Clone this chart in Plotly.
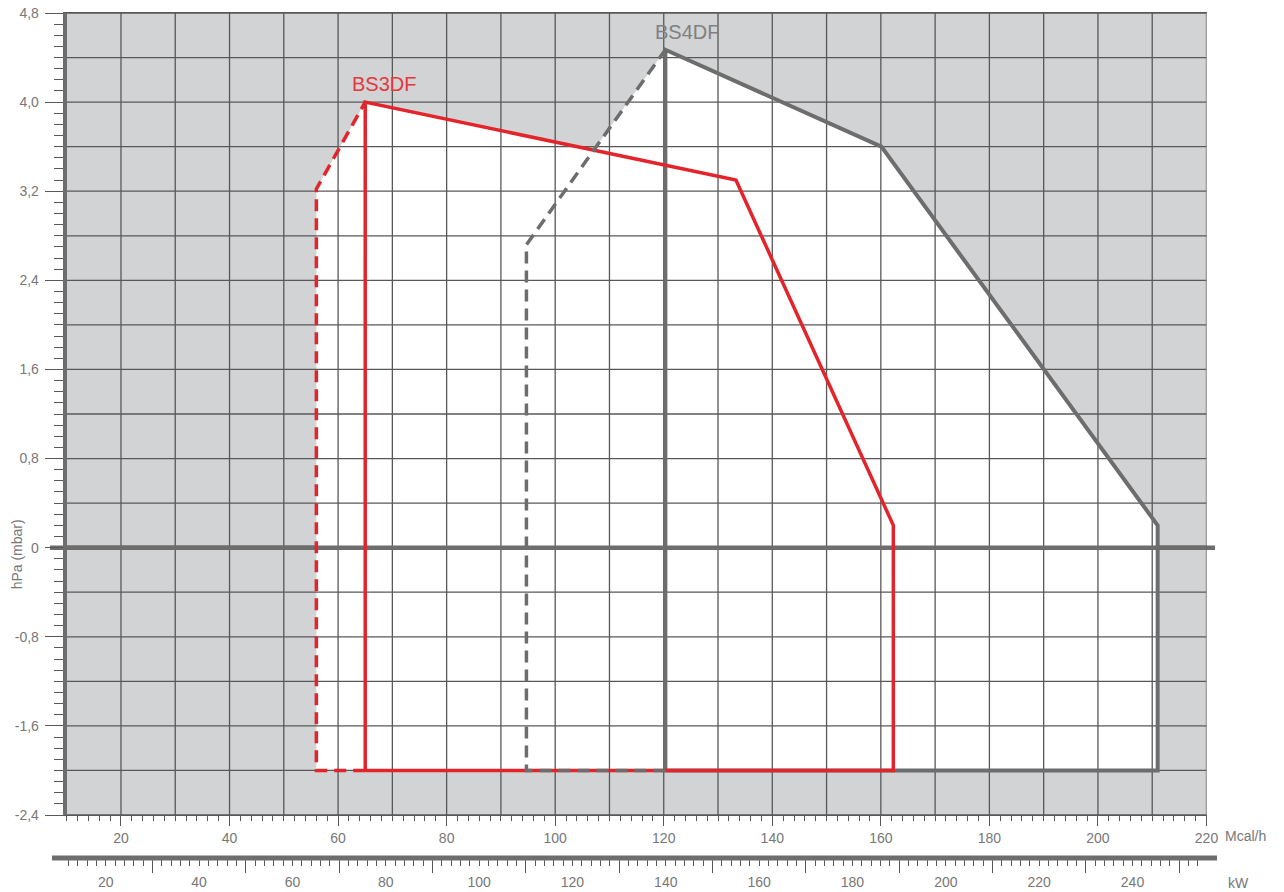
import numpy as np
import plotly.graph_objects as go

# ---------------- data ----------------
# BS3DF working field (Mcal/h, hPa)
bs3df_solid_x = [65.0, 65.0, 133.3, 162.3, 162.3, 65.0]
bs3df_solid_y = [-2.0, 4.0, 3.30, 0.20, -2.0, -2.0]
bs3df_dash_x = [65.0, 56.0, 56.0, 65.0]
bs3df_dash_y = [-2.0, -2.0, 3.22, 4.0]

# BS4DF working field
bs4df_solid_x = [120.3, 120.3, 160.1, 211.0, 211.0, 120.3]
bs4df_solid_y = [-2.0, 4.47, 3.60, 0.20, -2.0, -2.0]
bs4df_dash_x = [120.3, 94.7, 94.7, 120.3]
bs4df_dash_y = [-2.0, -2.0, 2.72, 4.47]

# axes
x_range = [10, 220]
y_range = [-2.4, 4.8]
x_major = list(range(10, 230, 10))
x_labels = ["" if v % 20 else str(v) for v in x_major]
x_minor = list(range(10, 222, 2))
y_major = [round(-2.4 + 0.4 * i, 1) for i in range(19)]
y_labels = [("0" if abs(v) < 1e-9 else f"{v:.1f}".replace(".", ","))
            if abs(round(v / 0.8) * 0.8 - v) < 1e-6 else "" for v in y_major]
y_minor = [round(-2.4 + 0.1 * i, 1) for i in range(73)]
kw_per_mcal = 1.163
kw_major = list(range(20, 260, 20))
kw_labels = [str(v) for v in kw_major]
kw_long = list(range(10, 260, 20))
kw_minor = list(range(12, 258, 2))

RED = "#e3242b"
GRAY = "#6d6d6d"
GRID = "#585858"
BG = "#d1d3d4"
TXT = "#777777"

fig = go.Figure()

# white working fields (union of both envelopes)
fx3 = bs3df_dash_x + bs3df_solid_x[2:]
fy3 = bs3df_dash_y + bs3df_solid_y[2:]
fx4 = bs4df_dash_x + bs4df_solid_x[2:]
fy4 = bs4df_dash_y + bs4df_solid_y[2:]
for fx, fy in [(fx3, fy3), (fx4, fy4)]:
    fig.add_trace(go.Scatter(x=fx, y=fy, fill="toself", fillcolor="white",
                             mode="none", hoverinfo="skip", showlegend=False))

# grid drawn above the white fields
gx, gy = [], []
for v in x_major[1:]:
    gx += [v, v, None]
    gy += [y_range[0], y_range[1], None]
for v in y_major:
    gx += [x_range[0], x_range[1], None]
    gy += [v, v, None]
fig.add_trace(go.Scatter(x=gx, y=gy, mode="lines",
                         line=dict(color=GRID, width=1.3),
                         hoverinfo="skip", showlegend=False))
# zero line
fig.add_trace(go.Scatter(x=x_range, y=[0, 0], mode="lines",
                         line=dict(color=GRAY, width=4.5),
                         hoverinfo="skip", showlegend=False))

# outlines
fig.add_trace(go.Scatter(x=bs4df_solid_x, y=bs4df_solid_y, mode="lines",
                         line=dict(color=GRAY, width=4), name="BS4DF",
                         showlegend=False))
fig.add_trace(go.Scatter(x=bs3df_solid_x, y=bs3df_solid_y, mode="lines",
                         line=dict(color=RED, width=3.5), name="BS3DF",
                         showlegend=False))
fig.add_trace(go.Scatter(x=bs3df_dash_x, y=bs3df_dash_y, mode="lines",
                         line=dict(color=RED, width=3.5, dash="12px,7px"),
                         showlegend=False, hoverinfo="skip"))
fig.add_trace(go.Scatter(x=bs4df_dash_x, y=bs4df_dash_y, mode="lines",
                         line=dict(color=GRAY, width=3.5, dash="12px,7px"),
                         showlegend=False, hoverinfo="skip"))

# dummy traces to register the kW axes
kw_range = [x_range[0] * kw_per_mcal, x_range[1] * kw_per_mcal]
fig.add_trace(go.Scatter(x=kw_range, y=[None, None], xaxis="x2", mode="lines",
                         showlegend=False, hoverinfo="skip"))
fig.add_trace(go.Scatter(x=kw_range, y=[None, None], xaxis="x3", mode="lines",
                         showlegend=False, hoverinfo="skip"))

L, R, T, B = 50, 60, 13, 20
W, H = 1284, 892
pw, ph = W - L - R, H - T - B
def px_x(p):
    return (p - L) / pw
def px_y(p):
    return (H - B - p) / ph

xdom = [px_x(66.7), px_x(1206.5)]
tickfont = dict(family="Liberation Sans, Arial, sans-serif", size=14, color=TXT)

fig.update_layout(
    width=W, height=H,
    margin=dict(l=L, r=R, t=T, b=B, autoexpand=False),
    paper_bgcolor="white", plot_bgcolor=BG,
    font=dict(family="Liberation Sans, Arial, sans-serif", color=TXT),
    xaxis=dict(domain=xdom, range=x_range, showgrid=False, zeroline=False,
               automargin=False,
               tickmode="array", tickvals=x_major, ticktext=x_labels,
               ticks="outside", ticklen=10, tickwidth=1.3, tickcolor=GRID,
               minor=dict(tickmode="array", tickvals=x_minor, ticks="outside",
                          ticklen=5, tickwidth=1.3, tickcolor=GRID),
               showline=True, linecolor=GRID, linewidth=1.3, mirror=True,
               tickfont=tickfont, ticklabelstandoff=0),
    yaxis=dict(domain=[px_y(815), 1], range=y_range, showgrid=False,
               zeroline=False, automargin=False,
               tickmode="array", tickvals=y_major,
               ticktext=y_labels, ticks="outside", ticklen=18, tickwidth=1.3,
               tickcolor=GRID,
               minor=dict(tickmode="array", tickvals=y_minor, ticks="outside",
                          ticklen=9, tickwidth=1.3, tickcolor=GRID),
               showline=True, linecolor=GRAY, linewidth=4,
               tickfont=tickfont, ticklabelstandoff=3),
    xaxis2=dict(overlaying="x", anchor="free", position=px_y(858), side="bottom",
                range=kw_range, showgrid=False, zeroline=False, automargin=False,
                tickmode="array", tickvals=kw_major, ticktext=kw_labels,
                ticks="outside", ticklen=7, tickwidth=1.3, tickcolor=GRID,
                minor=dict(tickmode="array", tickvals=kw_minor, ticks="outside",
                           ticklen=7, tickwidth=1.3, tickcolor=GRID),
                showline=False, tickfont=tickfont, ticklabelstandoff=4),
    xaxis3=dict(overlaying="x", anchor="free", position=px_y(858), side="bottom",
                range=kw_range, showgrid=False, zeroline=False, automargin=False,
                tickmode="array", tickvals=kw_long, ticks="outside",
                ticklen=14, tickwidth=1.3, tickcolor=GRID,
                showticklabels=False, showline=False),
    shapes=[
        dict(type="line", xref="paper", yref="paper", x0=px_x(52), x1=px_x(1217),
             y0=px_y(858), y1=px_y(858), line=dict(color=GRAY, width=5),
             layer="above"),
        dict(type="line", xref="paper", yref="y", x0=px_x(50), x1=px_x(1215),
             y0=0, y1=0, line=dict(color=GRAY, width=4.5), layer="below"),
    ],
    annotations=[
        dict(text="BS3DF", x=68.5, y=4.16, xref="x", yref="y", showarrow=False,
             font=dict(size=20, color="#e8363d")),
        dict(text="BS4DF", x=124.2, y=4.63, xref="x", yref="y", showarrow=False,
             font=dict(size=20, color="#808080")),
        dict(text="Mcal/h", x=220, xshift=16, xanchor="left", y=px_y(836),
             xref="x", yref="paper", yanchor="middle", showarrow=False,
             font=dict(size=14, color=TXT)),
        dict(text="kW", x=px_x(1226), xanchor="left", y=px_y(883), xref="paper",
             yref="paper", yanchor="middle", showarrow=False,
             font=dict(size=14, color=TXT)),
        dict(text="hPa (mbar)", x=px_x(17), y=-0.06, xref="paper", yref="y",
             xanchor="center", yanchor="middle",
             textangle=-90, showarrow=False, font=dict(size=14, color=TXT)),
    ],
)

fig.write_html("out.html",
               config={"displayModeBar": False},
               post_script="document.body.style.margin='0';"
                           "document.body.style.overflow='hidden';")
